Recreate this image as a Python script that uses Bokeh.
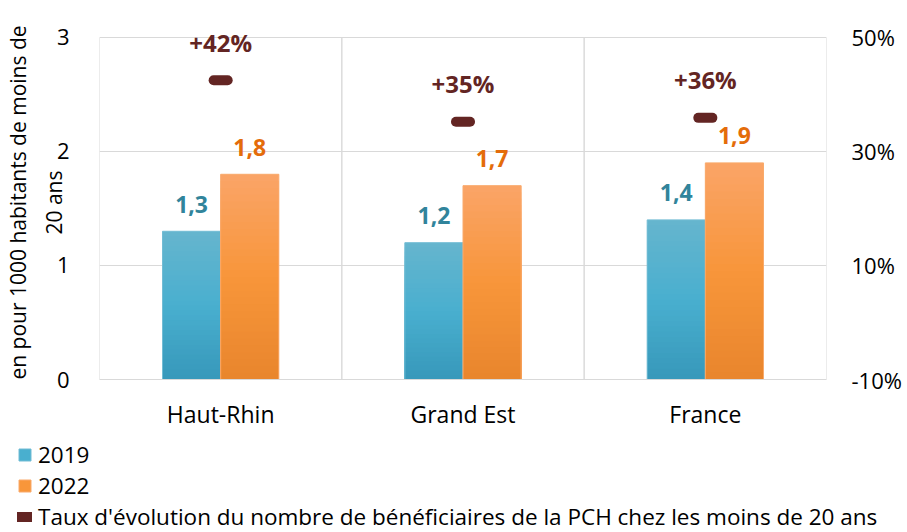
from bokeh.plotting import figure
from bokeh.models import (FactorRange, Range1d, LinearAxis, FixedTicker, PrintfTickFormatter,
                          ColumnDataSource, LabelSet, Legend, LegendItem)
from bokeh.core.properties import value
from bokeh.transform import dodge
from bokeh.embed import file_html
from bokeh.resources import INLINE

# ---- data ----
categories = ["Haut-Rhin", "Grand Est", "France"]
v2019 = [1.3, 1.2, 1.4]
v2022 = [1.8, 1.7, 1.9]
rate = [42.5, 35.2, 35.9]          # taux d'évolution en %
left_ticks = [0, 1, 2, 3]
right_ticks = [-10, 10, 30, 50]
series_names = ["2019", "2022"]
rate_name = "Taux d'évolution du nombre de bénéficiaires de la PCH chez les moins de 20 ans"
y_title = "en pour 1000 habitants de moins de\n20 ans"

# ---- styles ----
FONT = "Open Sans"
GRAD2019 = ["#66B5CE", "#49AFCF", "#3798BA"]   # top, middle, bottom
GRAD2022 = ["#FAA468", "#F8963A", "#E8852D"]
EDGE2019 = "#72BCD4"
EDGE2022 = "#F9AA6C"
CRATE = "#632523"
GRID = "#D9D9D9"
N_BANDS = 30
TOP_PAD = 0.105


def _hex(c):
    return [int(c[i:i + 2], 16) for i in (1, 3, 5)]


def grad_color(stops, t):
    # t: 0 at top of the bar, 1 at the bottom
    if t <= 0.5:
        a, b, u = stops[0], stops[1], t / 0.5
    else:
        a, b, u = stops[1], stops[2], (t - 0.5) / 0.5
    ca, cb = _hex(a), _hex(b)
    return "#%02x%02x%02x" % tuple(round(x + (y - x) * u) for x, y in zip(ca, cb))


def band_source(vals, stops):
    xs, tops, cols = [], [], []
    for k in range(N_BANDS):
        f = 1 - k / N_BANDS
        for c, v in zip(categories, vals):
            xs.append(c)
            tops.append(v * f)
            cols.append(grad_color(stops, (k + 0.5) / N_BANDS))
    return ColumnDataSource(dict(cat=xs, top=tops, color=cols))


src = ColumnDataSource(dict(
    cat=categories,
    v2019=v2019,
    v2022=v2022,
    rate=rate,
    y0=[left_ticks[0]] * len(categories),
    y1=[left_ticks[-1]] * len(categories),
    l2019=[f"{v:.1f}".replace(".", ",") for v in v2019],
    l2022=[f"{v:.1f}".replace(".", ",") for v in v2022],
    lrate=[f"+{round(v):d}%" for v in rate],
))

MAIN_H = 440
y_end = left_ticks[-1] + TOP_PAD
pct_end = right_ticks[-1] + TOP_PAD * (right_ticks[-1] - right_ticks[0]) / (left_ticks[-1] - left_ticks[0])

p = figure(x_range=FactorRange(factors=categories, range_padding=0),
           y_range=Range1d(left_ticks[0], y_end),
           width=907, height=MAIN_H, output_backend="svg", toolbar_location=None,
           min_border_left=97, min_border_right=81, min_border_top=25,
           min_border_bottom=MAIN_H - 379)
p.extra_y_ranges = {"pct": Range1d(right_ticks[0], pct_end)}

p.outline_line_color = None
p.xgrid.grid_line_color = None
p.ygrid.grid_line_color = GRID
p.ygrid.ticker = FixedTicker(ticks=left_ticks)

# vertical separators between categories (stop at the top gridline)
for off in (-0.5, 0.5):
    p.segment(x0=dodge("cat", off, range=p.x_range), x1=dodge("cat", off, range=p.x_range),
              y0="y0", y1="y1", source=src, line_color=GRID, line_width=1)

# left axis
ya = p.yaxis[0]
ya.ticker = FixedTicker(ticks=left_ticks)
ya.axis_line_color = None
ya.major_tick_line_color = None
ya.minor_tick_line_color = None
ya.major_label_text_font = FONT
ya.major_label_text_font_size = "22px"
ya.major_label_text_color = "#000000"
ya.major_label_standoff = 24
ya.axis_label = y_title
ya.axis_label_text_font = FONT
ya.axis_label_text_font_size = "21px"
ya.axis_label_text_font_style = "normal"
ya.axis_label_text_color = "#000000"
ya.axis_label_text_line_height = 1.3
ya.axis_label_standoff = -14

# right axis
ra = LinearAxis(y_range_name="pct", ticker=FixedTicker(ticks=right_ticks),
                formatter=PrintfTickFormatter(format="%d%%"))
ra.axis_line_color = None
ra.major_tick_line_color = None
ra.minor_tick_line_color = None
ra.major_label_text_font = FONT
ra.major_label_text_font_size = "22px"
ra.major_label_text_color = "#000000"
ra.major_label_standoff = 19
p.add_layout(ra, "right")

# x axis
xa = p.xaxis[0]
xa.axis_line_color = GRID
xa.major_tick_line_color = None
xa.minor_tick_line_color = None
xa.major_label_text_font = FONT
xa.major_label_text_font_size = "23px"
xa.major_label_text_color = "#000000"
xa.major_label_standoff = 12

# bars (vertical gradient made of stacked bands)
for vals, col, stops, edge, off in ((v2019, "v2019", GRAD2019, EDGE2019, -0.12),
                                    (v2022, "v2022", GRAD2022, EDGE2022, 0.12)):
    bs = band_source(vals, stops)
    p.vbar(x=dodge("cat", off, range=p.x_range), top="top", width=0.24, source=bs,
           fill_color="color", line_color=None)
    p.vbar(x=dodge("cat", off, range=p.x_range), top=col,
           width=0.24, source=src, fill_color=None, line_color=edge, line_width=1)

rate_style = dict(line_color=CRATE, line_width=10, line_cap="round")
p.segment(x0=dodge("cat", -0.029, range=p.x_range), x1=dodge("cat", 0.029, range=p.x_range),
          y0="rate", y1="rate", y_range_name="pct", source=src, **rate_style)

# labels
common = dict(source=src, text_align="center", text_baseline="middle",
              text_font=value(FONT), text_font_style=value("bold"))
p.add_layout(LabelSet(x=dodge("cat", -0.12, range=p.x_range), y="v2019", text="l2019",
                      y_offset=27, text_color=value("#31849B"), text_font_size=value("23px"), **common))
p.add_layout(LabelSet(x=dodge("cat", 0.12, range=p.x_range), y="v2022", text="l2022",
                      y_offset=27, text_color=value("#E46C0A"), text_font_size=value("23px"), **common))
p.add_layout(LabelSet(x="cat", y="rate", y_range_name="pct", text="lrate",
                      y_offset=38, text_color=value(CRATE), text_font_size=value("24px"), **common))

# ---- legend (separate strip under the chart) ----
lg = figure(width=907, height=532 - MAIN_H, x_range=Range1d(0, 1), y_range=Range1d(0, 1),
            output_backend="svg", toolbar_location=None, min_border=0,
            x_axis_location=None, y_axis_location=None)
lg.grid.visible = False
lg.outline_line_color = None
proxy = ColumnDataSource(dict(x=[-1.0], y=[-1.0]))
r1 = lg.vbar(x="x", top="y", width=0.1, source=proxy, fill_color=GRAD2019[1], line_color=EDGE2019)
r2 = lg.vbar(x="x", top="y", width=0.1, source=proxy, fill_color=GRAD2022[1], line_color=EDGE2022)
r3 = lg.segment(x0="x", x1="x", y0="y", y1="y", source=proxy, **rate_style)

legend = Legend(items=[LegendItem(label=series_names[0], renderers=[r1]),
                       LegendItem(label=series_names[1], renderers=[r2]),
                       LegendItem(label=rate_name, renderers=[r3])],
                location=(17, 0), orientation="vertical",
                border_line_color=None, background_fill_alpha=0,
                padding=0, margin=0, spacing=0,
                glyph_width=15, glyph_height=15, label_standoff=6,
                label_text_font=FONT, label_text_font_size="22.5px", label_text_color="#000000",
                label_height=20)
lg.add_layout(legend)

open("out.html", "w").write(file_html([p, lg], INLINE))
